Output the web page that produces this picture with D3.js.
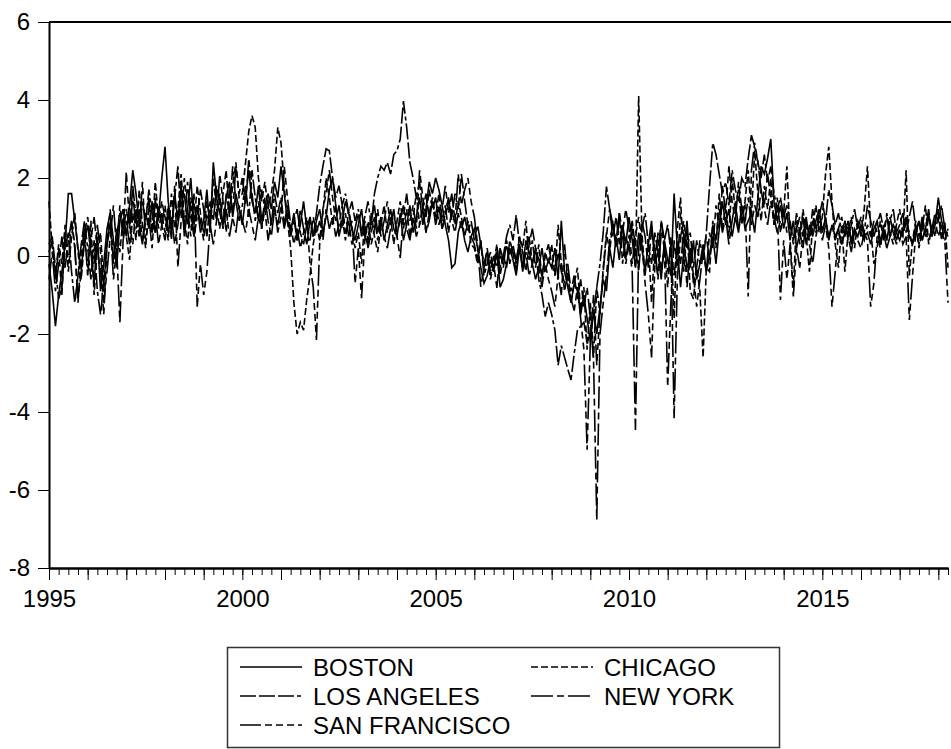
<!DOCTYPE html>
<html lang="en">
<head>
<meta charset="UTF-8">
<title>Metro series 1995-2018</title>
<script src="https://d3js.org/d3.v7.min.js"></script>
<style>
  body { margin: 0; background: #fff; }
  svg { display: block; font-family: Arial, "Liberation Sans", sans-serif; }
</style>
</head>
<body>
<div id="chart"></div>
<script>
// monthly observations, first one is 1995M1
const startYear = 1995;
const yTicks = [-8, -6, -4, -2, 0, 2, 4, 6];
const xLabelYears = [1995, 2000, 2005, 2010, 2015];
const seriesNames = ["BOSTON", "CHICAGO", "LOS ANGELES", "NEW YORK", "SAN FRANCISCO"];

// one row per year (12 months), 2018 ends in April
const boston = [
  -0.2, -0.9, -1.8, -1.0, -0.4, 0.3, 1.6, 1.6, 0.9, 0.2, -0.3, 0.4,
  0.8, 0.1, -0.7, 0.5, -0.9, -0.2, 0.7, 1.1, 0.4, -0.3, 0.9, 1.2,
  0.5, 1.3, 2.2, 1.6, 0.8, 0.3, 1.1, 0.7, 1.4, 0.6, 1.0, 2.0,
  2.8, 1.4, 0.7, 1.6, 0.9, 1.8, 0.5, 1.2, 2.0, 0.8, 1.3, 0.6,
  0.9, 1.7, 0.6, 2.4, 1.5, 1.1, 0.8, 1.5, 1.9, 1.0, 1.6, 1.2,
  0.8, 1.5, 2.2, 1.4, 1.1, 1.8, 0.9, 1.3, 1.6, 1.2, 1.9, 1.5,
  2.3, 1.6, 0.9, 0.6, 1.1, 0.4, 0.8, 1.4, 0.7, 1.0, 0.5, 0.9,
  1.2, 0.6, 1.0, 1.7, 2.0, 1.3, 0.5, 0.9, 1.4, 1.1, 0.7, 0.4,
  0.8, 1.2, 0.5, 0.3, 0.9, 1.3, 0.6, 1.0, 0.4, 0.8, 1.2, 0.7,
  0.5, 1.1, 0.4, 0.8, 1.3, 0.6, 1.0, 1.5, 0.8, 1.2, 1.9, 1.6,
  2.0, 1.7, 1.3, 0.8, 0.4, -0.3, -0.2, 0.6, 0.9, 0.4, 0.1, 0.5,
  0.7, 0.2, -0.3, -0.7, -0.5, -0.1, -0.4, 0.1, -0.8, -0.6, -0.2, 0.2,
  -0.1, -0.5, 0.2, -0.3, 0.4, 0.1, -0.2, -0.6, -0.3, 0.2, -0.4, -0.1,
  -0.3, 0.2, -0.6, 0.9, -0.4, -0.8, -1.2, -0.7, -0.9, -1.5, -1.0, -1.6,
  -2.2, -1.4, -2.0, -1.3, -0.6, -0.9, 0.2, -0.3, 0.5, -0.1, 0.8, 0.3,
  1.0, 0.4, -0.3, 0.6, 0.2, -0.4, 0.3, 0.9, -0.2, 0.1, -0.6, 0.4,
  -0.1, -0.5, 1.6, 0.2, -0.8, 0.1, 0.9, -0.3, 0.4, -0.6, -0.2, 0.3,
  -0.4, 0.0, 0.5, -0.2, 0.7, 1.4, 0.8, 1.2, 0.5, 1.0, 0.6, 1.3,
  0.7, 0.9, 1.1, 0.6, 1.5, 2.3, 2.1, 2.5, 3.0, 1.4, 0.9, 1.3,
  0.7, 1.1, 0.4, 0.9, 0.2, 0.6, 1.0, 0.3, 0.8, 0.5, 0.9, 1.2,
  0.6, 1.0, 0.4, 0.8, 0.5, 0.7, 0.3, 0.6, 0.9, 0.4, 0.7, 0.5,
  0.8, 0.5, 0.6, 0.3, 0.7, 0.9, 0.4, 0.6, 0.2, 0.5, 0.8, 0.6,
  0.4, 0.7, 1.0, 0.5, 0.3, 0.6, 0.9, 0.4, 0.7, 1.1, 0.5, 0.8,
  1.5, 0.9, 0.6, 0.6
];

const chicago = [
  1.4, 0.2, -0.5, 0.3, -0.2, 0.8, -0.4, 0.5, 1.1, 0.1, -0.6, 0.4,
  -0.3, 0.9, -1.0, 0.2, 0.6, -0.8, 0.3, 1.2, -0.2, 0.7, 0.1, 1.0,
  0.5, -0.1, 1.1, 0.4, 1.7, 0.8, 0.2, 1.3, 0.6, 1.9, 0.9, 1.4,
  1.0, 0.4, 1.6, 0.7, 1.2, 2.1, 0.9, 0.3, 1.5, 0.8, 1.8, 1.1,
  0.6, 1.4, 0.9, 2.0, 1.2, 0.7, 1.6, 2.2, 1.0, 1.8, 2.4, 1.5,
  1.6, 2.4, 3.2, 3.6, 3.3, 2.0, 1.4, 1.9, 1.2, 1.6, 2.2, 3.3,
  2.9, 1.8, 0.9, 0.2, -1.2, -2.0, -1.7, -1.9, -1.1, -0.5, 0.3, 0.8,
  0.4, 1.1, 2.0, 1.5, 0.8, 1.3, 0.6, 1.0, 0.4, 1.2, 0.7, 0.2,
  0.6, -0.2, 0.9, 0.4, 1.1, 0.5, 0.1, 0.8, 1.3, 0.6, 1.0, 0.3,
  0.9, 1.4, 0.7, 1.2, 0.5, 1.0, 1.6, 0.8, 1.3, 0.6, 1.1, 1.5,
  1.0, 1.6, 0.9, 1.3, 0.6, 1.2, 0.8, 1.4, 1.0, 0.5, 0.9, 0.3,
  0.2, -0.2, 0.4, -0.4, 0.1, -0.6, -0.2, 0.3, -0.5, 0.0, -0.3, 0.4,
  0.1, -0.4, 0.5, 0.2, 0.9, -0.1, 0.4, -0.3, 0.3, -0.6, 0.1, -0.2,
  0.3, -0.5, 0.8, -0.2, -0.9, -0.4, -1.2, -0.7, -0.3, -1.4, -0.8, -2.4,
  -1.2, -2.6, -0.8, -1.5, -0.3, 0.6, 0.1, 0.9, 0.3, 1.1, -0.2, 0.5,
  0.2, 0.8, -0.3, 4.1, 0.6, -0.5, 0.4, -1.2, 0.3, -0.6, 0.9, 0.2,
  -0.8, 0.5, -1.6, 0.7, 1.5, -0.4, 0.8, -0.9, -1.1, -0.3, -0.9, -2.6,
  -0.3, -0.4, 0.9, 0.2, 1.6, 0.7, 1.3, 0.5, 2.0, 1.1, 1.7, 0.8,
  1.4, 2.2, 1.0, 2.7, 1.6, 0.9, 1.8, 1.2, 2.0, 0.8, 1.5, 0.6,
  1.1, 2.3, 0.4, -0.8, 0.9, 0.3, 1.2, 0.5, -0.4, 0.8, 1.3, 0.6,
  1.0, 2.1, 2.8, 1.4, 0.3, -0.3, 0.8, -0.4, 0.6, 1.0, 0.2, 0.9,
  0.5, 1.2, 2.3, 0.7, -0.2, 0.2, 0.9, 0.4, 1.1, 0.6, 0.3, 0.8,
  1.2, 0.5, 2.2, -0.5, 0.4, 0.9, 0.2, 0.7, 1.3, 0.3, 0.8, 0.5,
  1.1, 0.4, 0.9, -0.3
];

const losAngeles = [
  0.3, 0.5, -0.3, -1.1, -0.8, 0.2, 0.6, -0.4, -1.2, -0.5, 0.3, 0.9,
  0.2, -0.6, 0.4, -0.9, -1.5, -0.7, 0.3, 0.8, -0.1, 0.5, 1.1, 0.6,
  1.2, 0.7, 1.8, 1.0, 0.5, 1.4, 0.9, 1.7, 1.1, 0.6, 1.3, 0.8,
  0.4, 1.1, 0.6, 1.5, 2.3, 1.0, 1.6, 0.8, 1.3, 0.5, 1.0, 1.7,
  1.2, 0.5, 1.4, 0.9, 1.8, 1.3, 0.7, 1.6, 1.1, 2.3, 1.4, 0.9,
  1.3, 1.8, 1.0, 2.2, 1.5, 0.9, 1.7, 1.2, 1.4, 0.8, 1.6, 1.1,
  1.5, 0.8, 1.3, 0.6, 1.0, 0.4, 1.2, 0.7, 0.3, 0.9, 0.5, 1.1,
  1.8, 2.3, 2.75, 2.7, 2.0, 1.5, 1.8, 1.3, 1.6, 1.1, 1.4, 0.9,
  1.2, 0.6, 1.0, 1.4, 0.8, 1.6, 2.0, 2.3, 2.2, 2.4, 2.1, 2.6,
  2.7, 3.0, 3.97, 3.3, 2.4, 2.0, 1.5, 1.9, 1.2, 1.6, 1.0, 1.4,
  0.9, 1.3, 0.7, 1.1, 1.5, 1.0, 1.6, 1.2, 2.1, 1.4, 0.8, 0.5,
  0.3, -0.1, 0.4, -0.5, -0.2, 0.1, -0.4, 0.2, -0.3, 0.0, 0.5, 0.8,
  0.4, 1.05, 0.3, -0.2, 0.1, -0.5, -0.2, 0.2, -0.6, -1.0, -1.55, -1.2,
  -1.5, -1.9, -2.8, -2.3, -2.6, -2.9, -3.18, -2.5, -1.9, -1.8, -1.7, -2.2,
  -2.0, -1.5, -0.8, -0.2, 0.6, 1.78, 1.2, 0.5, 1.0, 0.3, 0.8, -0.1,
  0.5, 0.9, 0.2, -0.4, 0.7, 1.1, 0.3, -0.2, 0.6, 0.1, 0.9, 0.4,
  0.8, 0.1, -0.5, 0.3, -0.2, 0.6, -0.4, 0.2, -0.7, -0.3, 0.4, -0.1,
  0.6, 1.8, 2.9, 2.6, 2.1, 1.6, 1.9, 1.3, 2.2, 1.7, 1.4, 2.0,
  1.8, 2.5, 3.1, 2.8, 2.4, 2.0, 2.6, 1.9, 2.3, 1.6, 1.2, 1.5,
  1.0, 1.3, 0.8, 0.4, 1.1, 0.6, 0.2, 0.9, 0.5, 1.2, 0.7, 1.0,
  1.4, 0.9, 1.7, 1.3, 0.8, 1.1, 0.6, 0.9, 0.4, 0.8, 1.2, 0.7,
  1.0, 0.6, 1.3, 0.9, 0.5, 0.8, 1.1, 0.7, 0.4, 0.9, 1.2, 0.6,
  0.8, 1.1, 0.6, 1.0, 1.4, 0.7, 0.3, 0.9, 0.5, 1.0, 0.7, 1.1,
  0.9, 1.3, 0.7, 0.5
];

const newYork = [
  -0.6, 0.1, -0.9, -0.2, 0.5, -0.3, 0.4, 0.9, 0.2, -1.1, -0.4, 0.6,
  1.0, 0.3, -0.2, 0.8, 0.1, -1.2, -0.4, 0.5, 1.3, 0.2, -1.7, 0.4,
  0.9, 0.3, 1.6, 0.7, 1.2, 0.4, 0.9, 1.5, 0.6, 1.1, 0.3, 0.8,
  1.3, 0.6, 1.0, 0.3, 0.8, 1.4, 0.7, 1.9, 1.0, 0.5, 1.2, 0.9,
  0.4, 1.1, 0.8, 0.3, 0.9, 1.6, 0.7, 1.2, 0.5, 1.0, 0.6, 1.3,
  0.9, 0.6, 1.2, 0.8, 0.4, 1.0, 0.7, 1.5, 0.9, 0.5, 1.2, 0.8,
  1.3, 0.7, 1.1, 0.5, 0.9, 1.2, 0.6, 0.3, 0.8, 0.4, 1.0, 0.6,
  0.9, 0.4, 1.2, 0.7, 1.0, 0.5, 0.8, 1.3, 0.6, 0.9, 0.3, 0.7,
  1.1, 0.5, 0.8, 0.2, 0.6, 1.0, 0.4, 0.9, 0.5, 0.2, 0.7, 1.1,
  0.6, 0.9, 1.3, 0.7, 0.4, 1.0, 0.5, 0.8, 1.2, 0.6, 0.9, 1.4,
  0.8, 1.2, 0.7, 1.0, 1.4, 0.9, 0.6, 1.1, 0.7, 1.0, 0.6, 0.9,
  0.4, 0.8, 0.3, -0.2, 0.1, -0.4, 0.0, -0.3, 0.2, -0.1, 0.3, -0.2,
  0.2, -0.1, 0.3, -0.4, 0.1, 0.5, -0.2, 0.2, -0.1, -0.5, 0.0, 0.3,
  -0.2, -0.5, 0.1, -0.4, -0.7, -0.2, -0.9, -0.5, -1.1, -0.6, -1.3, -0.8,
  -1.6, -2.7, -6.77, -2.0, -1.2, -0.5, 0.4, 0.8, 0.2, 1.0, 0.5, -0.2,
  0.3, -0.4, -4.46, 0.2, 0.9, 0.5, -0.3, 0.7, 0.1, -0.5, 0.6, 0.2,
  -0.4, 0.3, -4.16, -0.6, 0.5, 0.9, 0.2, 0.6, -0.3, 0.4, -0.2, 0.1,
  0.5, -0.1, 0.8, 0.4, 1.2, 0.6, 1.0, 0.3, 0.9, 1.4, 0.7, 1.1,
  0.9, 1.5, 0.8, 1.3, 1.0, 1.7, 1.2, 0.8, 1.4, 1.0, 0.6, 0.9,
  1.2, 0.6, 0.9, 0.3, 0.7, 1.0, 0.5, 0.8, 0.4, 0.9, 0.6, 1.1,
  0.7, 0.9, 0.5, 0.8, 0.4, 0.7, 1.0, 0.5, 0.8, 0.3, 0.6, 0.9,
  0.6, 0.4, 0.8, 0.5, 0.9, 0.6, 0.3, 0.7, 1.0, 0.5, 0.8, 0.4,
  0.7, 0.5, 0.9, 0.6, 0.3, 0.8, 0.5, 1.0, 0.6, 0.4, 0.7, 0.9,
  0.5, 0.8, 0.4, 0.7
];

const sanFrancisco = [
  0.1, 0.4, -0.6, 0.2, -1.0, 0.6, -0.2, 0.9, 0.3, -1.2, 0.1, 0.7,
  -0.5, 0.4, 1.0, 0.2, -0.4, -1.5, 0.3, 0.9, -0.6, 0.2, 1.3, 0.5,
  2.16, 0.8, 0.3, 1.2, 0.6, 1.9, 0.4, 1.0, 0.2, 1.5, 0.7, 1.1,
  0.6, 1.3, 0.4, 1.8, -0.3, 0.9, 2.0, 1.2, 0.5, 1.6, -1.3, -0.2,
  -1.0, -0.4, 0.8, 1.5, 0.9, 2.1, 1.4, 0.6, 1.7, 1.1, 2.3, 1.6,
  2.0, 1.3, 2.5, 1.6, 0.9, 1.4, 0.7, 1.2, 0.4, 0.9, 1.3, 0.6,
  1.0, 2.3, 1.5, 0.8, 0.3, 0.7, 0.2, 0.6, 1.0, -0.2, -0.8, -2.15,
  0.3, 1.2, 1.6, 2.2, 1.5, 0.9, 1.3, 0.7, 1.1, 0.5, 0.9, -0.7,
  0.2, -1.08, 0.4, 0.9, 0.3, 0.7, 1.2, 0.5, 0.9, 1.4, 0.8, 1.2,
  0.5, -0.05, 1.0, 1.6, 0.9, 1.3, 0.7, 2.2, 1.5, 1.0, 1.7, 1.2,
  1.5, 0.8, 1.2, 1.8, 1.1, 1.6, 0.9, 2.1, 1.3, 1.7, 2.0, 1.4,
  1.0, 0.3, -0.79, -0.3, 0.2, -0.5, -0.2, -0.82, 0.1, -0.3, 0.4, 0.0,
  0.3, -0.2, 0.5, 0.1, -0.4, 0.3, 0.7, 0.2, -0.3, -0.8, -0.2, -0.6,
  -0.9, -1.3, -0.5, -1.0, 0.3, -0.6, -1.1, -1.4, -0.8, -1.6, -2.4, -4.97,
  -2.2, -1.0, -2.8, -1.4, -0.4, 0.5, 1.2, 0.8, 0.3, 1.1, 0.6, 1.2,
  0.7, -0.2, 0.5, 1.0, 0.3, -0.7, -1.5, -2.6, -0.3, 0.6, -0.4, 0.2,
  -3.35, -1.2, 0.4, -0.3, 1.1, 0.5, -0.8, 0.2, -0.5, -1.3, -0.6, 0.1,
  -0.4, 0.6, 0.2, 1.3, 0.7, 1.8, 1.1, 2.3, 1.4, 0.9, 1.9, 1.2,
  1.3, -1.04, 2.2, 2.9, 2.4, 1.7, 1.3, 2.1, 1.5, 0.8, 1.2, -1.13,
  0.4, -0.6, 0.3, -1.04, 0.2, -0.3, 0.6, 1.0, 0.3, -0.2, 0.5, 0.9,
  0.4, 0.8, 0.2, -1.3, -0.4, 0.6, 0.3, 0.9, 0.5, 0.1, 0.7, 0.4,
  0.2, 0.6, 0.4, -1.3, -0.7, 0.5, 0.2, 0.8, 0.4, 1.0, 0.6, 0.3,
  0.7, 0.3, 0.5, -1.64, -0.5, 0.6, 0.9, 0.4, 0.7, 1.2, 0.5, 0.9,
  1.2, 0.6, 0.4, -1.2
];

const seriesValues = [boston, chicago, losAngeles, newYork, sanFrancisco];
// line patterns as in the EViews legend
const dashes = ["none", "7,3", "16,3,16,3,16,3,4,3", "22,4,7,4", "21,4,7,4,7,4,7,4"];

const width = 951, height = 749;
const plotLeft = 49, plotRight = 948, plotTop = 22, plotBottom = 568;

const svg = d3.select("#chart").append("svg")
  .attr("width", width)
  .attr("height", height);

svg.append("rect").attr("width", width).attr("height", height).attr("fill", "#fff");

const n = boston.length;
const x = d3.scaleLinear()
  .domain([startYear, startYear + (n - 1) / 12])
  .range([plotLeft, plotRight]);

const y = d3.scaleLinear()
  .domain([-8, 6])
  .range([plotBottom, plotTop]);

// top frame line
svg.append("line")
  .attr("x1", plotLeft).attr("x2", width)
  .attr("y1", plotTop).attr("y2", plotTop)
  .attr("stroke", "#000").attr("stroke-width", 2);

svg.append("g")
  .attr("transform", `translate(${plotLeft},0)`)
  .call(d3.axisLeft(y).tickValues(yTicks).tickSize(11).tickSizeOuter(0).tickPadding(8)
    .tickFormat(d => String(d)));

// quarters get short ticks, years long ones
const quarters = d3.range(0, (n - 1) / 3 + 1).map(q => startYear + q / 4);
const years = d3.range(startYear, startYear + Math.floor((n - 1) / 12) + 1);

svg.append("g")
  .attr("transform", `translate(0,${plotBottom})`)
  .call(d3.axisBottom(x).tickValues(quarters).tickSize(7).tickSizeOuter(0).tickFormat(""));

svg.append("g")
  .attr("transform", `translate(0,${plotBottom})`)
  .call(d3.axisBottom(x).tickValues(years).tickSize(12).tickSizeOuter(0).tickPadding(10)
    .tickFormat(d => xLabelYears.includes(d) ? String(d) : ""));

svg.selectAll(".domain").attr("stroke", "#000").attr("stroke-width", 2);
svg.selectAll(".tick line").attr("stroke", "#000");
svg.selectAll(".tick text").attr("fill", "#000").style("font-size", "24px")
  .style("font-family", "Arial, 'Liberation Sans', sans-serif");

const line = d3.line()
  .x((d, i) => x(startYear + i / 12))
  .y(d => y(d));

svg.append("g")
  .selectAll("path")
  .data(seriesValues)
  .join("path")
  .attr("d", d => line(d))
  .attr("fill", "none")
  .attr("stroke", "#000")
  .attr("stroke-width", 1.6)
  .attr("stroke-dasharray", (d, i) => dashes[i]);

// legend
const legend = svg.append("g");
legend.append("rect")
  .attr("x", 227.5).attr("y", 647.5)
  .attr("width", 552).attr("height", 100)
  .attr("fill", "none").attr("stroke", "#333").attr("stroke-width", 1.5);

const legendCols = [240, 531];
const legendRows = [667, 696, 725];

seriesNames.forEach((name, i) => {
  const lx = legendCols[i % 2];
  const ly = legendRows[Math.floor(i / 2)];
  legend.append("line")
    .attr("x1", lx).attr("x2", lx + 62)
    .attr("y1", ly).attr("y2", ly)
    .attr("stroke", "#000").attr("stroke-width", 1.5)
    .attr("stroke-dasharray", dashes[i]);
  legend.append("text")
    .attr("x", lx + 73).attr("y", ly)
    .attr("dy", "0.36em")
    .style("font-size", "24px")
    .text(name);
});
</script>
</body>
</html>
